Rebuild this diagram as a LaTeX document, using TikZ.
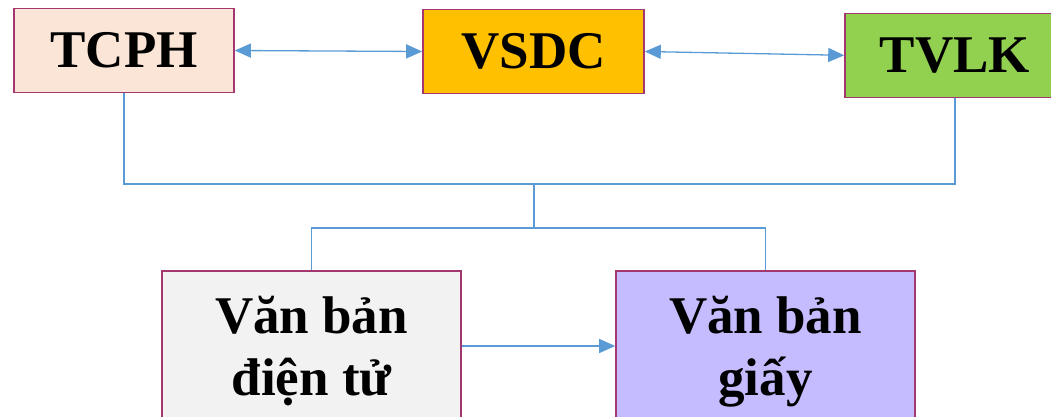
\documentclass[tikz,border=0pt]{standalone}
\usepackage{fontspec}
\setmainfont{Liberation Serif}
\usetikzlibrary{arrows.meta}
\definecolor{edgepurple}{RGB}{163,55,112}
\definecolor{linkblue}{RGB}{91,155,213}
\definecolor{tcphfill}{RGB}{251,229,214}
\definecolor{vsdcfill}{RGB}{255,192,0}
\definecolor{tvlkfill}{RGB}{146,208,80}
\definecolor{dtfill}{RGB}{242,242,242}
\definecolor{giayfill}{RGB}{197,188,255}
\tikzset{
  box/.style={draw=edgepurple, line width=1.6pt, rectangle, inner sep=0pt,
    font=\bfseries\fontsize{53}{62}\selectfont},
  bigtext/.style={inner sep=0pt, anchor=base, font=\bfseries\fontsize{53}{62}\selectfont},
  link/.style={draw=linkblue, line width=1.3pt},
  biarr/.style={link, {Triangle[length=16pt,width=14pt]}-{Triangle[length=16pt,width=14pt]}},
  onearr/.style={link, -{Triangle[length=16pt,width=14pt]}}
}
\begin{document}
\begin{tikzpicture}
\begin{scope}[x=1pt,y=-1pt]
\useasboundingbox (0,0) rectangle (1051,416);
\node[box, fill=tcphfill, minimum width=220pt, minimum height=84pt] (tcph) at (124,50.5) {TCPH};
\node[box, fill=vsdcfill, minimum width=221pt, minimum height=84pt] (vsdc) at (533.5,51.5) {VSDC};
\node[box, fill=tvlkfill, minimum width=220pt, minimum height=84pt] (tvlk) at (955,55.3) {TVLK};
\node[box, fill=dtfill, minimum width=299pt, minimum height=170pt] (dt) at (311.5,356) {};
\node[box, fill=giayfill, minimum width=299pt, minimum height=170pt] (giay) at (765.5,356) {};
\node[bigtext] (dt1) at (311.5,333) {Văn bản};
\node[bigtext] (dt2) at (311.5,395) {điện tử};
\node[bigtext] (gi1) at (765.5,333) {Văn bản};
\node[bigtext] (gi2) at (765.5,395) {giấy};
\coordinate (bus) at (534,184);
\coordinate (bus2) at (534,228);
\coordinate (arry) at (0,346);
\end{scope}
\draw[biarr] (tcph.east) -- (vsdc.west);
\draw[biarr] (vsdc.east) -- (tvlk.west);
\draw[link] (tcph.south) |- (bus) -| (tvlk.south);
\draw[link] (bus) -- (bus2);
\draw[link] (dt.north) |- (bus2) -| (giay.north);
\draw[onearr] (dt.east |- arry) -- (giay.west |- arry);
\end{tikzpicture}
\end{document}
